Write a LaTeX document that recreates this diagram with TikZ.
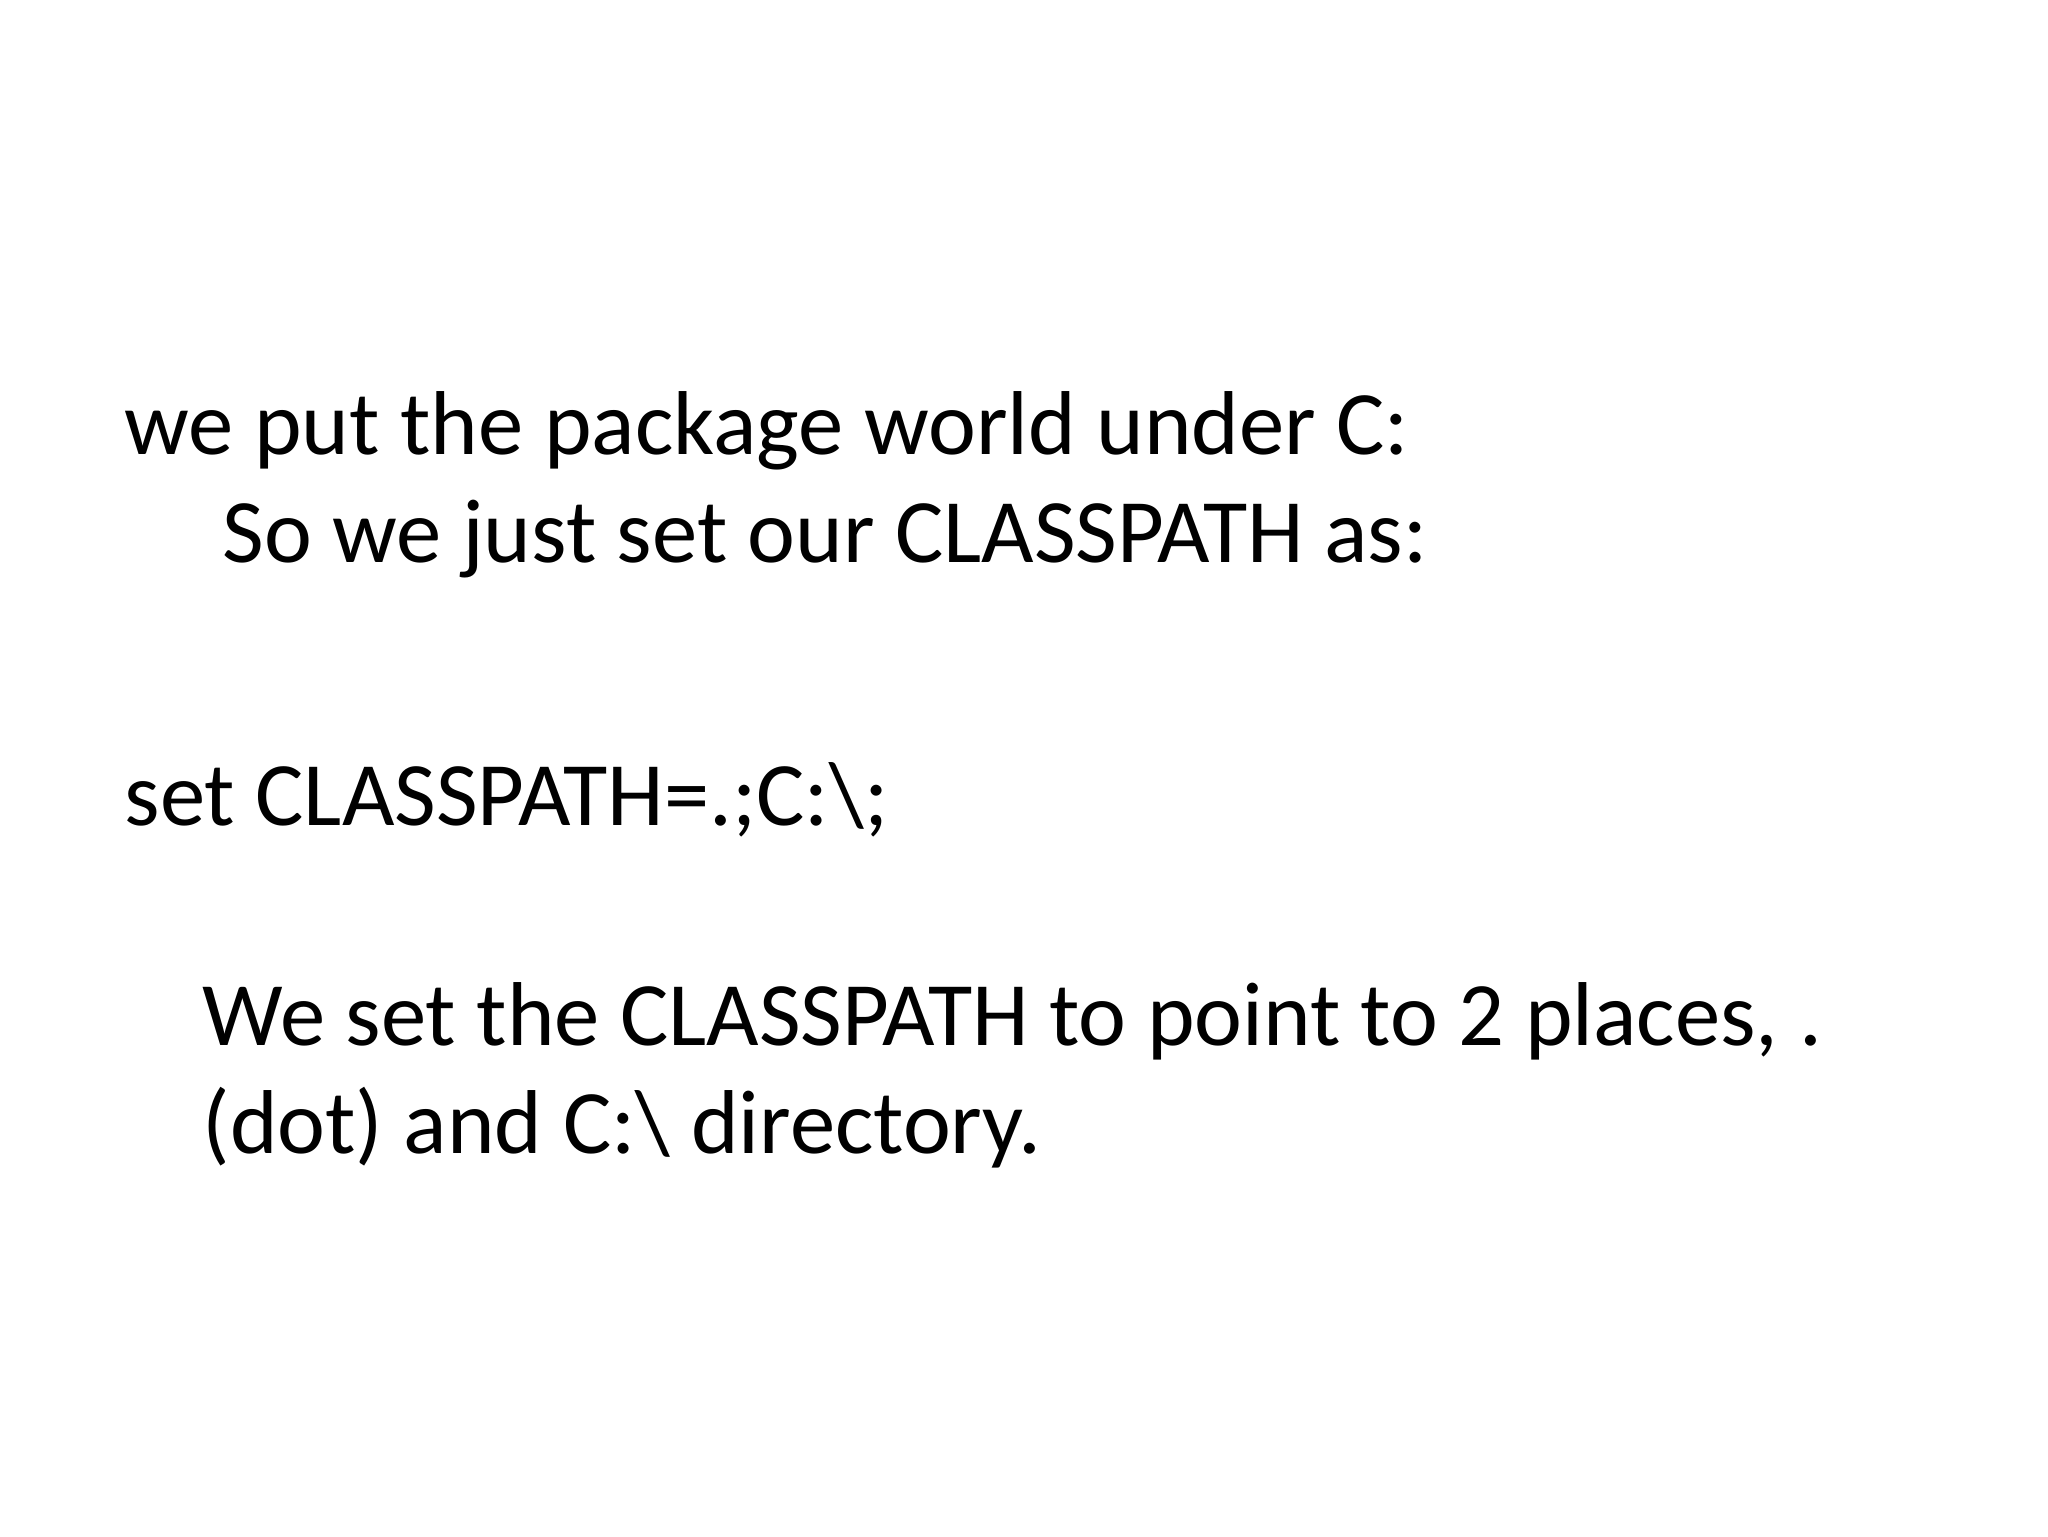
\documentclass[tikz,border=0pt]{standalone}
\usepackage{fontspec}
\setmainfont{Carlito}
\begin{document}
\begin{tikzpicture}[x=1mm,y=-1mm,txt/.style={anchor=base west,inner sep=0pt,font=\fontsize{25.8pt}{30pt}\selectfont}]
\useasboundingbox[fill=white] (0,0) rectangle (204.8,153.6);
\node[txt] (l1) at (12.4,45.4) {we put the package world under C:};
\node[txt] (l2) at (22.2,56.2) {So we just set our CLASSPATH as:};
\node[txt] (l3) at (12.4,82.5) {set CLASSPATH=.;C:\textbackslash;};
\node[txt] (l4) at (20.2,104.5) {We set the CLASSPATH to point to 2 places, .};
\node[txt] (l5) at (20.2,115.3) {(dot) and C:\textbackslash{} directory.};
\end{tikzpicture}
\end{document}
